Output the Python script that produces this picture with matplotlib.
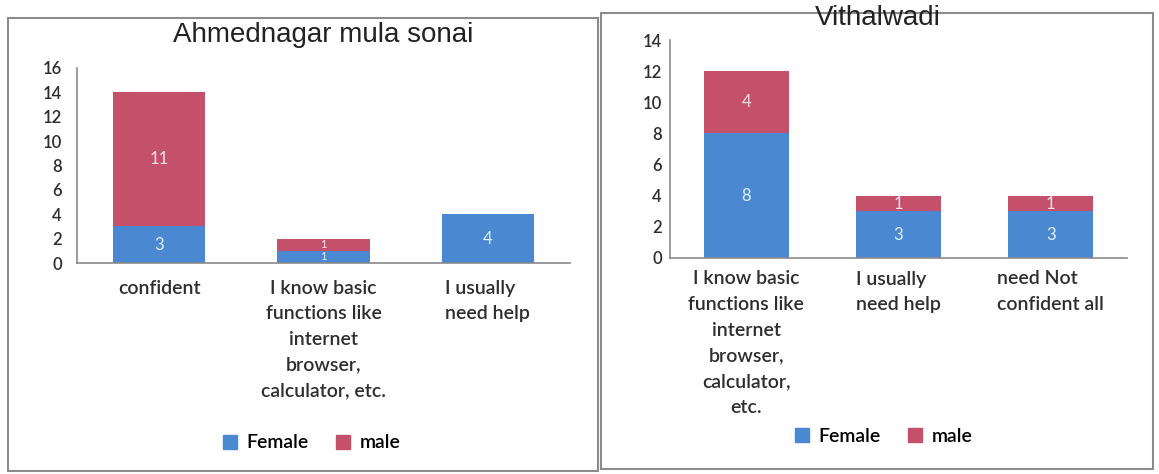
import numpy as np
import matplotlib.pyplot as plt
from matplotlib.patches import Rectangle, Patch

# left panel
left_title = 'Ahmednagar mula sonai'
left_cats = ['confident',
             'I know basic\nfunctions like\ninternet\nbrowser,\ncalculator, etc.',
             'I usually\nneed help']
left_female = [3, 1, 4]
left_male = [11, 1, 0]

# right panel
right_title = 'Vithalwadi'
right_cats = ['I know basic\nfunctions like\ninternet\nbrowser,\ncalculator,\netc.',
              'I usually\nneed help',
              'need Not\nconfident all']
right_female = [8, 3, 3]
right_male = [4, 1, 1]

blue = '#4a88d2'
red = '#c4506a'
lab_font = 'Lato'
wt = 'semibold'

fig = plt.figure(figsize=(11.59, 4.74), dpi=100)

# panel frames
fig.patches.append(Rectangle((8/1159, 1-471/474), 590/1159, 453/474, transform=fig.transFigure,
                             fill=False, edgecolor='#8c8c8c', lw=1.5))
fig.patches.append(Rectangle((601/1159, 1-469/474), 552/1159, 456/474, transform=fig.transFigure,
                             fill=False, edgecolor='#8c8c8c', lw=1.5))


def panel(rect, cats, female, male, ymax, tickpad, xpad, left_align):
    ax = fig.add_axes(rect)
    x = np.arange(len(cats))
    px_unit = rect[3] * 474 / ymax
    b1 = ax.bar(x, female, 0.56, color=blue)
    b2 = ax.bar(x, male, 0.56, bottom=female, color=red)
    for cont, vals, col in [(b1, female, '#dcf2ff'), (b2, male, '#f8e4e8')]:
        txts = ax.bar_label(cont, labels=[str(v) if v else '' for v in vals], label_type='center',
                            color=col, fontsize=12, family=lab_font)
        for t, v in zip(txts, vals):
            if v * px_unit < 14:
                t.set_fontsize(8)
    ax.set_xlim(-0.5, len(cats) - 0.5)
    ax.set_ylim(0, ymax)
    yt = list(range(0, ymax + 1 if ymax % 2 == 0 else ymax, 2))
    ax.set_yticks(yt, labels=[str(v) for v in yt], family=lab_font, weight=wt, fontsize=12)
    ax.set_xticks(x)
    ax.set_xticklabels(cats, fontsize=14, family=lab_font, weight=wt, linespacing=1.62, va='top')
    for t, la in zip(ax.get_xticklabels(), left_align):
        if la:
            t.set_multialignment('left')
    ax.tick_params(axis='x', length=0, pad=xpad, colors='#2e2e2e')
    ax.tick_params(axis='y', length=0, pad=tickpad, colors='#2e2e2e')
    for s in ['top', 'right']:
        ax.spines[s].set_visible(False)
    for s in ['left', 'bottom']:
        ax.spines[s].set_color('#8a8a8a')
        ax.spines[s].set_linewidth(1.2)
    return ax


panel([77/1159, 211/474, 493/1159, 195/474], left_cats, left_female, left_male, 16, 11, 12,
      [False, False, True])
panel([670/1159, 216/474, 457/1159, 218/474], right_cats, right_female, right_male, 14, 6, 9,
      [False, True, True])

fig.text(323/1159, 1-35/474, left_title, ha='center', va='center', fontsize=20,
         family='Liberation Sans', color='#222222')
fig.text(878/1159, 1-18/474, right_title, ha='center', va='center', fontsize=20,
         family='Liberation Sans', color='#222222')

handles = [Patch(color=blue, label='Female'), Patch(color=red, label='male')]
for cx, cy in [(312/1159, 1-443/474), (884/1159, 1-436/474)]:
    fig.legend(handles=handles, loc='center', bbox_to_anchor=(cx, cy), ncol=2, frameon=False,
               handlelength=0.7, handleheight=0.7, handletextpad=0.5, columnspacing=1.4,
               prop={'family': lab_font, 'size': 14, 'weight': wt})

fig.savefig('out.png', dpi=100)
